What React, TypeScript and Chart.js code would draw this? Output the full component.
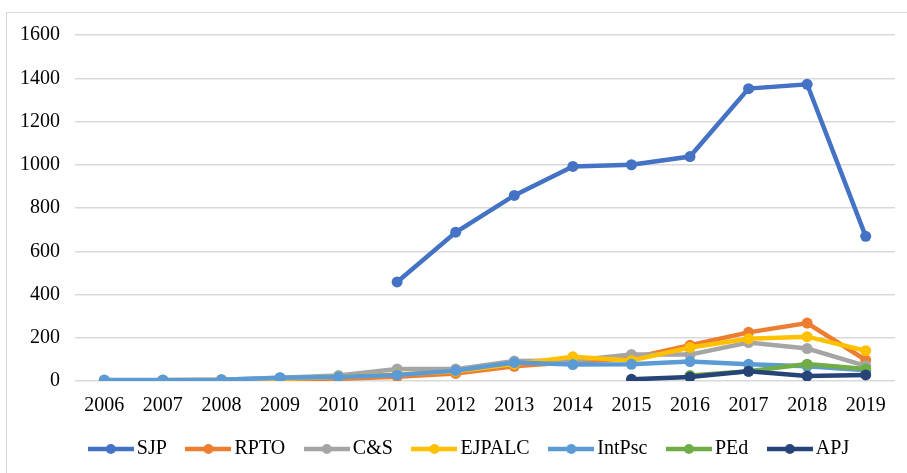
import React, { useEffect, useRef } from "react";
import { Chart, registerables } from "chart.js";

Chart.register(...registerables);

const years = ["2006", "2007", "2008", "2009", "2010", "2011", "2012", "2013", "2014", "2015", "2016", "2017", "2018", "2019"];
const seriesNames = ["SJP", "RPTO", "C&S", "EJPALC", "IntPsc", "PEd", "APJ"];
const seriesColors = ["#4472C4", "#ED7D31", "#A5A5A5", "#FFC000", "#5B9BD5", "#70AD47", "#264478"];

const sjp = [null, null, null, null, null, 458, 688, 858, 992, 1000, 1038, 1352, 1372, 669];
const rpto = [2, 3, 5, 8, 10, 20, 35, 68, 88, 105, 165, 225, 268, 97];
const cs = [2, 3, 6, 15, 25, 55, 55, 92, 95, 122, 122, 178, 150, 70];
const ejpalc = [2, 3, 5, 10, 18, 30, 45, 78, 112, 95, 155, 195, 205, 140];
const intpsc = [5, 5, 6, 15, 18, 28, 48, 85, 76, 77, 90, 77, 68, 50];
const ped = [null, null, null, null, null, null, null, null, null, null, 25, 45, 78, 55];
const apj = [null, null, null, null, null, null, null, null, null, 8, 18, 45, 23, 28];

const seriesValues = [sjp, rpto, cs, ejpalc, intpsc, ped, apj];

const yMin = 0;
const yMax = 1600;
const yStep = 200;

const FONT = "'Liberation Serif', 'Times New Roman', serif";

function makeLegendImage(color: string): HTMLCanvasElement {
  const c = document.createElement("canvas");
  c.width = 46;
  c.height = 12;
  const ctx = c.getContext("2d")!;
  ctx.strokeStyle = color;
  ctx.lineWidth = 4.5;
  ctx.beginPath();
  ctx.moveTo(0, 6);
  ctx.lineTo(46, 6);
  ctx.stroke();
  ctx.fillStyle = color;
  ctx.beginPath();
  ctx.arc(23, 6, 5, 0, Math.PI * 2);
  ctx.fill();
  return c;
}

const legendShift = {
  id: "legendShift",
  afterLayout(chart: any) {
    const l = chart.legend;
    if (!l) return;
    l.left += 14;
    l.right += 14;
    l.top -= 4;
    l.bottom -= 4;
  },
};

export default function App() {
  const ref = useRef<HTMLCanvasElement | null>(null);

  useEffect(() => {
    if (!ref.current) return;
    const images = seriesColors.map((c) => makeLegendImage(c));
    const n = seriesNames.length;
    const chart = new Chart(ref.current, {
      type: "line",
      data: {
        labels: years,
        datasets: seriesNames.map((name, i) => ({
          label: name,
          data: seriesValues[i],
          borderColor: seriesColors[i],
          backgroundColor: seriesColors[i],
          borderWidth: 4.5,
          pointRadius: 5.5,
          pointHoverRadius: 5.5,
          pointBorderWidth: 0,
          pointBackgroundColor: seriesColors[i],
          tension: 0,
          spanGaps: false,
          order: n - i,
        })),
      },
      options: {
        animation: false,
        responsive: false,
        maintainAspectRatio: false,
        layout: { padding: { left: 14, right: 34, top: 22, bottom: 0 } },
        scales: {
          x: {
            offset: true,
            grid: { display: false, drawTicks: false },
            border: { display: false },
            ticks: { color: "#000", font: { family: FONT, size: 20 }, padding: 13, maxRotation: 0, autoSkip: false },
            afterFit: (scale: any) => {
              scale.height = 36.4;
              scale.paddingLeft = 0;
              scale.paddingRight = 0;
            },
          },
          y: {
            min: yMin,
            max: yMax,
            grid: { color: "#d9d9d9", lineWidth: 1.5, drawTicks: false },
            border: { display: false },
            ticks: {
              stepSize: yStep,
              color: "#000",
              font: { family: FONT, size: 20 },
              padding: 15,
              callback: (v: any) => String(v),
            },
            afterFit: (scale: any) => {
              scale.width = 54;
              scale.paddingTop = 8;
              scale.paddingBottom = 8;
            },
          },
        },
        plugins: {
          tooltip: { enabled: false },
          legend: {
            position: "bottom",
            labels: {
              usePointStyle: true,
              pointStyleWidth: 32,
              padding: 25.6,
              color: "#000",
              font: { family: FONT, size: 20 },
              generateLabels: (ch: any) =>
                Chart.defaults.plugins.legend.labels
                  .generateLabels(ch)
                  .sort((a: any, b: any) => a.datasetIndex - b.datasetIndex)
                  .map((l: any) => ({
                    ...l,
                    pointStyle: images[l.datasetIndex],
                  })),
            },
          },
        },
      },
      plugins: [legendShift],
    });
    return () => chart.destroy();
  }, []);

  return (
    <div style={{ position: "fixed", left: 0, top: 0, width: 907, height: 473, overflow: "hidden", background: "#fff" }}>
      <div
        style={{
          position: "absolute",
          left: 6,
          top: 12,
          width: 924,
          height: 480,
          border: "1px solid #d9d9d9",
          boxSizing: "border-box",
        }}
      >
        <canvas ref={ref} width={922} height={460} style={{ display: "block", width: 922, height: 460 }} />
      </div>
    </div>
  );
}
